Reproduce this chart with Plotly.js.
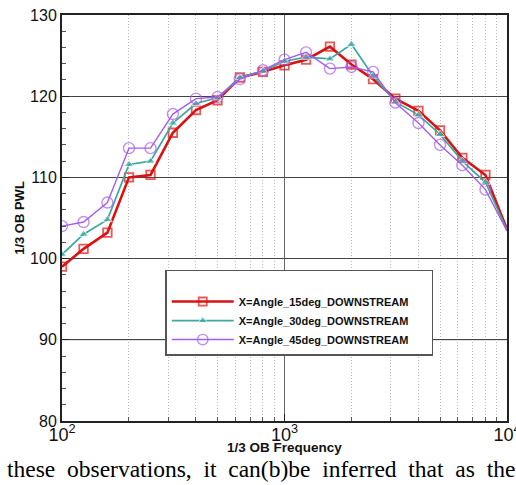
<!DOCTYPE html>
<html>
<head>
<meta charset="utf-8">
<script src="https://cdn.plot.ly/plotly-3.0.1.min.js"></script>
<style>html,body{margin:0;padding:0;background:#fff;}#chart{width:516px;height:485px;}</style>
</head>
<body>
<div id="chart"></div>
<script>
// 1/3 octave band centre frequencies (Hz)
var freq = [100, 125, 160, 200, 250, 315, 400, 500, 630, 800, 1000, 1250, 1600, 2000, 2500, 3150, 4000, 5000, 6300, 8000, 10000];
// PWL (dB) per series
var pwl15 = [99.0, 101.2, 103.2, 110.0, 110.3, 115.5, 118.3, 119.5, 122.3, 123.0, 123.8, 124.5, 126.1, 123.9, 122.1, 119.7, 118.2, 115.8, 112.4, 110.3, 103.6];
var pwl30 = [100.5, 103.0, 104.8, 111.6, 112.0, 116.7, 119.1, 119.8, 122.3, 123.1, 124.3, 124.8, 124.6, 126.4, 122.5, 119.3, 117.7, 115.3, 112.0, 109.4, 103.5];
var pwl45 = [104.0, 104.5, 106.9, 113.6, 113.6, 117.8, 119.7, 119.9, 122.1, 123.2, 124.5, 125.4, 123.4, 123.6, 123.0, 119.2, 116.7, 114.0, 111.5, 108.5, 103.4];
var names = ["X=Angle_15deg_DOWNSTREAM", "X=Angle_30deg_DOWNSTREAM", "X=Angle_45deg_DOWNSTREAM"];
var xTitle = "1/3 OB Frequency";
var yTitle = "1/3 OB PWL";
var captionWords = ["these", "observations,", "it", "can(b)be", "inferred", "that", "as", "the"];

function sizes(s) { return freq.map(function (f) { return f >= 10000 ? 0 : s; }); }

var traces = [
  {x: freq, y: pwl15, name: names[0], type: 'scatter', mode: 'lines+markers',
   line: {color: '#dd1111', width: 2.6},
   marker: {symbol: 'square-open', size: sizes(8.5), color: '#dd1111', line: {width: 1.8}}},
  {x: freq, y: pwl30, name: names[1], type: 'scatter', mode: 'lines+markers',
   line: {color: '#3aaaa0', width: 1.7},
   marker: {symbol: 'triangle-up', size: sizes(8.5), color: '#3aaaa0'}},
  {x: freq, y: pwl45, name: names[2], type: 'scatter', mode: 'lines+markers',
   line: {color: '#a55cf0', width: 1.4},
   marker: {symbol: 'circle-open', size: sizes(11), color: '#a55cf0', line: {width: 1.4}}}
];

var fam = 'Liberation Sans, Arial, sans-serif';
var pad = new Array(79).join('\u00a0');
var layout = {
  width: 516, height: 485,
  margin: {l: 62, r: 9, t: 15, b: 64},
  paper_bgcolor: '#fff', plot_bgcolor: '#fff',
  showlegend: true,
  xaxis: {
    type: 'log', range: [2, 4], dtick: 1, exponentformat: 'power',
    showline: true, mirror: true, linecolor: '#222', linewidth: 2,
    showgrid: true, gridcolor: '#666', gridwidth: 1,
    ticks: 'inside', ticklen: 7, tickcolor: '#222',
    minor: {dtick: 'D1', showgrid: true, gridcolor: '#bbb', gridwidth: 1, griddash: '1px,2px', ticks: 'inside', ticklen: 4, tickcolor: '#555'},
    tickfont: {family: fam, size: 14.5, color: '#111'}, zeroline: false,
    ticklabeloverflow: 'allow', ticklabelstandoff: -3
  },
  yaxis: {
    range: [80, 130], dtick: 10,
    showline: true, mirror: true, linecolor: '#222', linewidth: 2,
    showgrid: true, gridcolor: '#444', gridwidth: 1.2,
    ticks: 'inside', ticklen: 7, tickcolor: '#222',
    minor: {dtick: 2, ticks: 'inside', ticklen: 4, tickcolor: '#555', showgrid: false},
    tickfont: {family: fam, size: 16, color: '#111'}, zeroline: false,
    title: {text: yTitle, standoff: 3, font: {family: fam, size: 13, color: '#111', weight: 'bold'}}
  },
  legend: {
    x: 0.232, y: 0.372, xanchor: 'left', yanchor: 'top',
    bgcolor: '#fff', bordercolor: '#555', borderwidth: 1.5,
    font: {family: fam, size: 11, color: '#111', weight: 'bold'},
    itemwidth: 62, tracegroupgap: 0,
    title: {text: pad, font: {family: fam, size: 12}}
  },
  shapes: [
    {type: 'line', xref: 'paper', x0: 0, x1: 1, yref: 'y', y0: 90, y1: 90, layer: 'between',
     line: {color: '#c4c4c4', width: 1.6}}
  ],
  annotations: [
    {text: xTitle, xref: 'paper', yref: 'paper', x: 0.499, y: -0.066, xanchor: 'center', yanchor: 'middle',
     showarrow: false, font: {family: fam, size: 13.5, color: '#111', weight: 'bold'}},
    {text: captionWords.join(' \u00a0'), xref: 'paper', yref: 'paper', x: -0.128, y: -0.118, xanchor: 'left', yanchor: 'middle',
     showarrow: false, font: {family: 'Liberation Serif, Times New Roman, serif', size: 23.5, color: '#000'}}
  ]
};

Plotly.newPlot('chart', traces, layout, {displayModeBar: false, staticPlot: true});
</script>
</body>
</html>
